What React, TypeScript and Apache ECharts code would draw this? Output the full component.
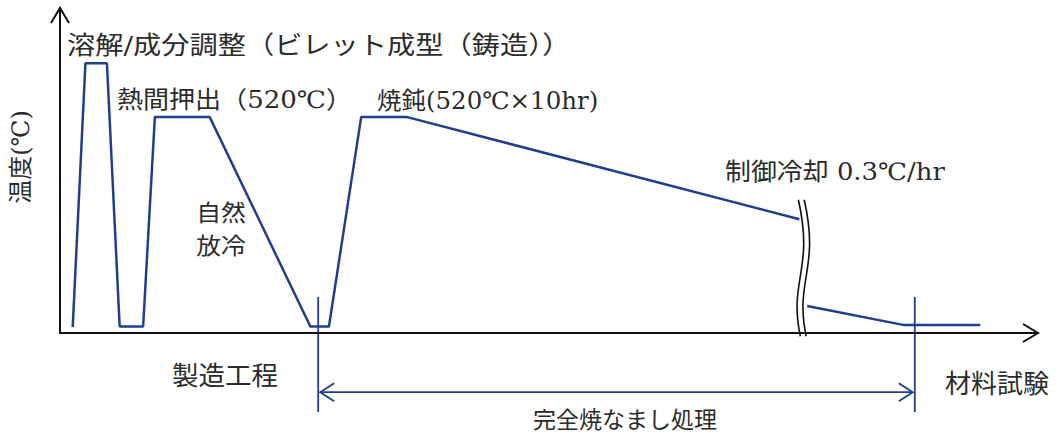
import React, { useEffect, useRef } from "react";
import * as echarts from "echarts";

// Process timeline (arbitrary time units) and temperature (arbitrary units, 0 = axis)
const stageX = [1.3, 2.6, 4.8, 6.1, 8.5, 9.7, 15.3, 25.6, 27.5, 30.8, 35.4, 75.6];
const stageT = [1.8, 83, 83, 2, 2, 66.5, 66.5, 2, 2, 66.5, 66.5, 35];
const tailX = [76.4, 86.2, 94.1];
const tailT = [8.3, 2.5, 2.5];
const markerX = [26.4, 87.4];
const breakX = [75.7, 76.3];

const yTitle = "温度(℃)";
const labelMelt = "溶解/成分調整（ビレット成型（鋳造））";
const labelExtrude = "熱間押出（520℃）";
const labelAnneal = "焼鈍(520℃×10hr)";
const labelNatural = ["自然", "放冷"];
const labelControl = "制御冷却 0.3℃/hr";
const labelMfg = "製造工程";
const labelTest = "材料試験";
const labelFull = "完全焼なまし処理";

const BLUE = "#1f3f8e";
const TXT = "#2b2b2b";
const FONT = "'DejaVu Serif', 'Noto Sans CJK JP', serif";

export default function App() {
  const ref = useRef<HTMLDivElement>(null);
  useEffect(() => {
    if (!ref.current) return;
    const chart = echarts.init(ref.current, null, { renderer: "svg" });
    const axisCommon = {
      type: "value" as const,
      min: 0,
      max: 100,
      axisLine: { show: true, lineStyle: { color: "#111", width: 2 } },
      axisTick: { show: false },
      axisLabel: { show: false },
      splitLine: { show: false },
    };
    chart.setOption({
      animation: false,
      grid: { left: 60, right: 21, top: 8, bottom: 105 },
      xAxis: axisCommon,
      yAxis: axisCommon,
      series: [
        {
          type: "line",
          data: stageX.map((x, i) => [x, stageT[i]]),
          showSymbol: false,
          lineStyle: { color: BLUE, width: 2.5 },
        },
        {
          type: "line",
          data: tailX.map((x, i) => [x, tailT[i]]),
          showSymbol: false,
          lineStyle: { color: BLUE, width: 2.5 },
        },
      ],
    });

    const p = (x: number, y: number) => chart.convertToPixel({ gridIndex: 0 }, [x, y]) as number[];
    const top = p(0, 100);
    const right = p(100, 0);

    const txt = (text: string, x: number, y: number, size: number, align = "left", sx = 1, extra: any = {}) => ({
      type: "text",
      x,
      y,
      scaleX: sx,
      ...extra,
      style: {
        text,
        font: `${size}px ${FONT}`,
        fill: TXT,
        align,
        verticalAlign: "middle",
        textAlign: align,
        textVerticalAlign: "middle",
      },
    });

    const graphics: any[] = [];
    // axis arrowheads
    graphics.push({
      type: "polyline",
      shape: { points: [[top[0] - 9, top[1] + 15], [top[0], top[1]], [top[0] + 9, top[1] + 15]] },
      style: { stroke: "#111", lineWidth: 2, fill: "none" },
    });
    graphics.push({
      type: "polyline",
      shape: { points: [[right[0] - 15, right[1] - 9], [right[0], right[1]], [right[0] - 15, right[1] + 9]] },
      style: { stroke: "#111", lineWidth: 2, fill: "none" },
    });
    // break marks
    const bTop = p(0, 41)[1];
    const bBot = p(0, -1)[1];
    breakX.forEach((bx) => {
      const px = p(bx, 0)[0];
      graphics.push({
        type: "bezierCurve",
        shape: {
          x1: px - 2, y1: bTop,
          x2: px, y2: bBot,
          cpx1: px + 14, cpy1: bTop + 70,
          cpx2: px - 12, cpy2: bTop + 80,
        },
        style: { stroke: "#111", lineWidth: 1.6, fill: "none" },
      });
    });
    // vertical markers
    markerX.forEach((mx) => {
      const a = p(mx, 11.1);
      const b = p(mx, -24.3);
      graphics.push({
        type: "line",
        shape: { x1: a[0], y1: a[1], x2: b[0], y2: b[1] },
        style: { stroke: BLUE, lineWidth: 1.8 },
      });
    });
    // double-headed arrow
    const l = p(markerX[0], -18.2);
    const r = p(markerX[1], -18.2);
    graphics.push({
      type: "line",
      shape: { x1: l[0] + 2, y1: l[1], x2: r[0] - 2, y2: r[1] },
      style: { stroke: BLUE, lineWidth: 1.8 },
    });
    graphics.push({
      type: "polyline",
      shape: { points: [[l[0] + 16, l[1] - 9], [l[0] + 2, l[1]], [l[0] + 16, l[1] + 9]] },
      style: { stroke: BLUE, lineWidth: 1.8, fill: "none" },
    });
    graphics.push({
      type: "polyline",
      shape: { points: [[r[0] - 16, r[1] - 9], [r[0] - 2, r[1]], [r[0] - 16, r[1] + 9]] },
      style: { stroke: BLUE, lineWidth: 1.8, fill: "none" },
    });

    // texts
    graphics.push(txt(labelMelt, 67, 45, 25, "left", 1.13));
    graphics.push(txt(labelExtrude, 117, 100, 24, "left", 1.085));
    graphics.push(txt(labelAnneal, 377, 101, 24, "left", 1.02));
    graphics.push(txt(labelNatural[0], 221, 213, 23, "center", 1.08));
    graphics.push(txt(labelNatural[1], 221, 246, 23, "center", 1.08));
    graphics.push(txt(labelControl, 725, 172, 24, "left", 1.08));
    graphics.push(txt(labelMfg, 225, 376, 26, "center", 1.02));
    graphics.push(txt(labelTest, 945, 384, 26, "left", 1.0));
    graphics.push(txt(labelFull, 625, 420, 23, "center", 1.0));
    graphics.push(txt(yTitle, 21, 157, 24, "center", 1.0, { rotation: Math.PI / 2 }));

    chart.setOption({ graphic: graphics });
    return () => chart.dispose();
  }, []);
  return <div ref={ref} style={{ position: "fixed", left: 0, top: 0, width: 1059, height: 438, background: "#fff" }} />;
}
